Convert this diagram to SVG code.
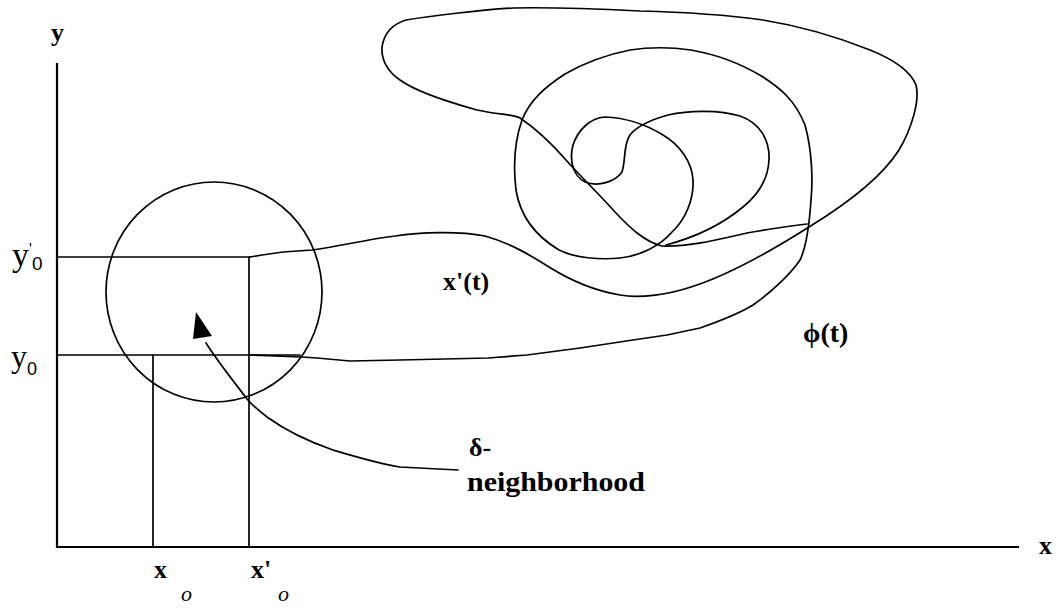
<svg xmlns="http://www.w3.org/2000/svg" width="1056" height="608" viewBox="0 0 1056 608">
<style>
.ax{stroke:#000;stroke-width:2.2;fill:none}
.ln{stroke:#000;stroke-width:1.7;fill:none;stroke-linejoin:round;stroke-linecap:round}
.lb{font-family:"Liberation Serif",serif;fill:#000}
.b{font-weight:bold}
.sub{font-family:"Liberation Sans",sans-serif}
</style>
<rect width="1056" height="608" fill="#fff"/>
<g id="axes">
<line class="ax" x1="57" y1="63" x2="57" y2="548"/>
<line class="ax" x1="56" y1="547" x2="1019" y2="547"/>
<text class="lb b" x="51" y="41" font-size="26">y</text>
<text class="lb b" x="1039" y="554" font-size="26">x</text>
</g>
<g id="neighborhood">
<ellipse class="ln" cx="214" cy="292" rx="108" ry="110" stroke-width="1.9"/>
</g>
<g id="guides">
<line class="ln" x1="57" y1="257" x2="250" y2="257"/>
<line class="ln" x1="57" y1="355" x2="300" y2="355"/>
<line class="ln" x1="153" y1="355" x2="153" y2="547"/>
<line class="ln" x1="249" y1="257" x2="249" y2="547"/>
<text class="lb" x="12" y="266" font-size="34">y<tspan font-size="16" dy="-12">'</tspan><tspan class="sub" font-size="19" dy="16">0</tspan></text>
<text class="lb" x="11" y="367" font-size="32">y<tspan class="sub" font-size="18" dy="8">0</tspan></text>
<text class="lb b" x="154" y="578" font-size="26">x</text>
<text class="lb" x="181" y="601" font-size="22" font-style="italic">o</text>
<text class="lb b" x="251" y="578" font-size="26">x'</text>
<text class="lb" x="278" y="601" font-size="22" font-style="italic">o</text>
</g>
<g id="connectors">
<path class="ln" d="M250,257 L262,255 L283,252 L312,250 C340,246 370,239 395,236 C420,232 460,231 485,236 C510,243 530,255 549,267 C565,277 590,290 620,295 C640,299 670,294 691,287 C720,278 760,258 809,227 C840,208 880,180 899,150 C912,128 920,100 916,85 C910,70 890,58 870,50 C840,38 800,26 763,20 C720,14 680,12 640,11 C600,9 550,7 513,8 C480,10 430,16 406,20 C393,24 384,33 382,47 C381,60 388,72 400,80 C415,91 441,100 477,110 C500,115 512,114 520,118 C535,128 552,144 566,160 C582,178 600,195 615,212 C630,228 645,242 662,246 C690,247 720,239 747,233 C770,229 790,226 807,224"/>
<path class="ln" d="M250,355 L302,357 L317,358 L350,361 L400,360 L488,358 L527,355 L580,348 L633,340 L667,335 L700,328 C720,321 740,313 753,305 C770,293 790,275 800,260 C806,248 809,230 811,200 C813,180 812,150 805,125 C795,100 780,88 763,77 C745,66 720,55 691,50 C670,47 650,47 630,50 C605,55 584,63 565,74 C545,87 530,100 522,120 C515,140 513,165 516,190 C520,215 534,235 559,250 C575,258 600,260 620,258 C640,256 660,246 672,232 C685,220 694,200 693,180 C692,162 680,145 663,135 C650,127 630,118 605,117 C590,118 578,130 573,145 C569,160 573,176 585,182 C598,187 615,182 622,172 C626,160 623,145 630,135 C637,126 650,120 668,115 C690,110 720,110 740,116 C760,123 770,140 769,160 C768,180 758,195 743,207 C725,222 700,236 666,245"/>
<path class="ln" d="M458,470 C440,469 420,468 400,467 C380,464 360,458 333,450 C310,442 285,430 267,417 C258,410 252,405 247,399 C235,383 218,362 206,343"/>
<polygon points="196,312 193,339 212,336" fill="#000"/>
</g>
<g id="labels">
<text class="lb b" x="443" y="290" font-size="26">x'(t)</text>
<text class="lb b" x="803" y="342" font-size="28">ϕ(t)</text>
<text class="lb b" x="469" y="456" font-size="26">δ-</text>
<text class="lb b" x="467" y="491" font-size="27" textLength="178" lengthAdjust="spacingAndGlyphs">neighborhood</text>
</g>
</svg>
